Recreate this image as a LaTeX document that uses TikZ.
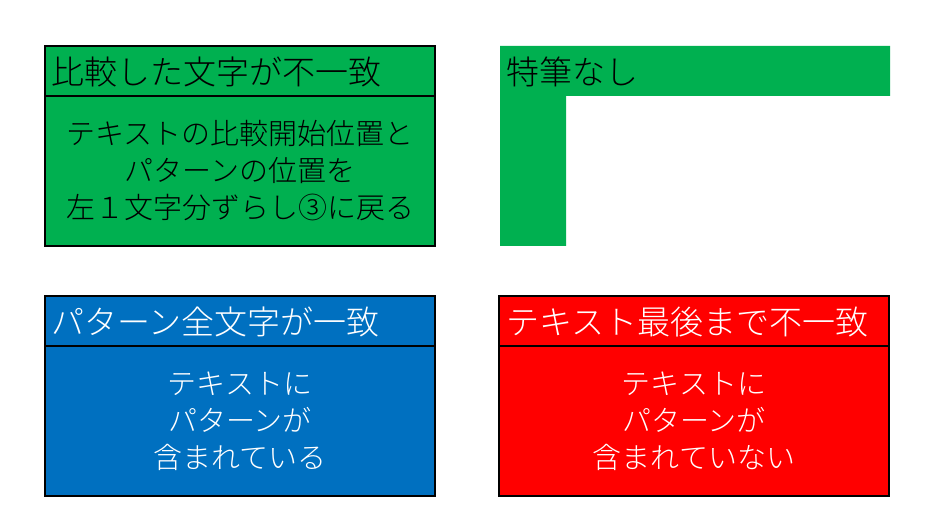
\documentclass[tikz,border=0pt]{standalone}
\usepackage{fontspec}
\newfontfamily\jp{Noto Sans CJK JP Light}
\definecolor{xgreen}{HTML}{00B050}
\definecolor{xblue}{HTML}{0070C0}
\definecolor{xred}{HTML}{FF0000}
\tikzset{
  part/.style={draw=black, line width=1.5pt, inner sep=0pt, outer sep=0pt, anchor=north west, minimum width=390pt},
  headbox/.style={part, minimum height=50pt},
  bodybox/.style={part, minimum height=150pt},
  headtext/.style={anchor=west, inner sep=0pt, font=\jp\fontsize{33}{37}\selectfont},
  bodytext/.style={align=center, inner sep=0pt, font=\jp\fontsize{29}{37}\selectfont},
}
\begin{document}
\begin{tikzpicture}[x=1pt,y=-1pt]
\useasboundingbox (0,0) rectangle (937,529);
% panel 1
\node[headbox, fill=xgreen] (h1) at (45,46) {};
\node[bodybox, fill=xgreen] (b1) at (45,96) {};
\node[headtext, text=black] (t1) at (51,72) {比較した文字が不一致};
\node[bodytext, text=black] (c1) at (b1.center) {テキストの比較開始位置と\\パターンの位置を\\左１文字分ずらし③に戻る};
% panel 2
\fill[xgreen] (500,46) -- (890,46) -- (890,96) -- (566,96) -- (566,246) -- (500,246) -- cycle;
\node[headtext, text=black] (t2) at (506,72) {特筆なし};
% panel 3
\node[headbox, fill=xblue] (h3) at (45,296) {};
\node[bodybox, fill=xblue] (b3) at (45,346) {};
\node[headtext, text=white] (t3) at (51,322) {パターン全文字が一致};
\node[bodytext, text=white] (c3) at (b3.center) {テキストに\\パターンが\\含まれている};
% panel 4
\node[headbox, fill=xred] (h4) at (499,296) {};
\node[bodybox, fill=xred] (b4) at (499,346) {};
\node[headtext, text=white] (t4) at (506,322) {テキスト最後まで不一致};
\node[bodytext, text=white] (c4) at (b4.center) {テキストに\\パターンが\\含まれていない};
\end{tikzpicture}
\end{document}
